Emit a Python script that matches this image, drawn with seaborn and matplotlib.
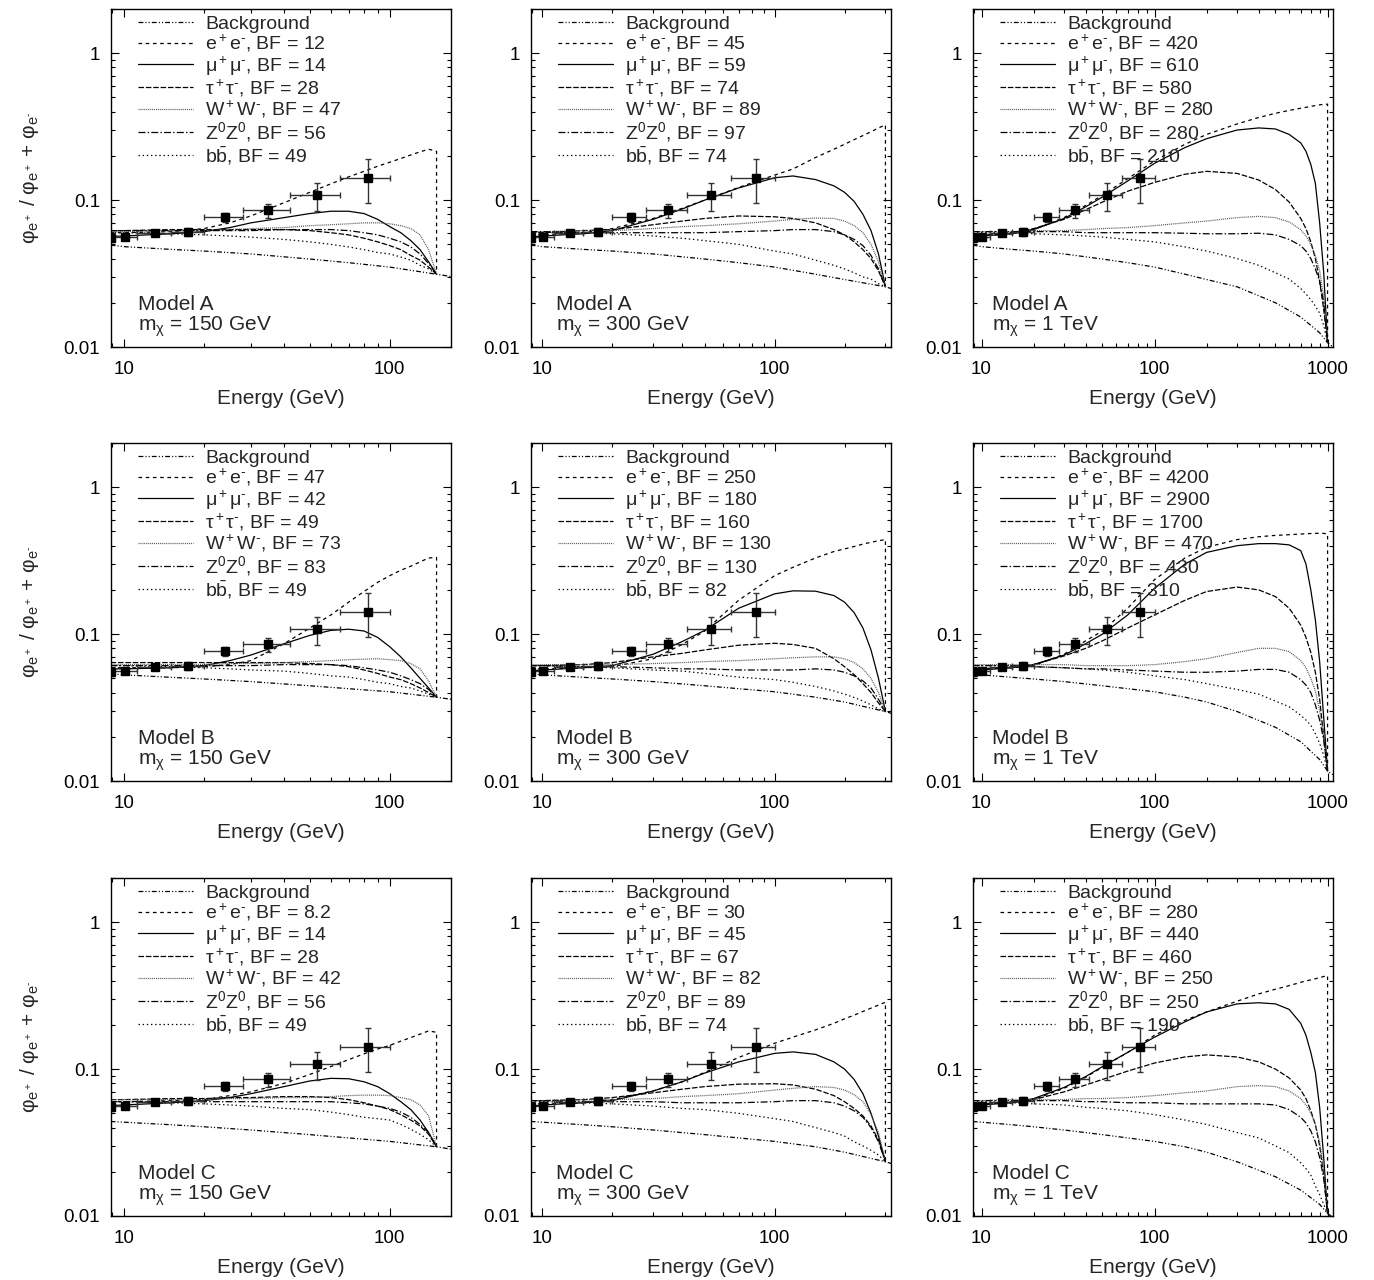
import matplotlib
matplotlib.use("Agg")
import matplotlib.pyplot as plt
import seaborn as sns
from matplotlib.ticker import NullFormatter

# ==========================================
# 1. DATOS
# ==========================================
E150 = [8.9, 10, 15, 20, 25, 30, 40, 50, 60, 70, 80, 90, 100, 110, 120, 130, 140, 150]
E300 = [8.9, 10, 15, 20, 30, 40, 50, 70, 100, 120, 150, 180, 200, 220, 240, 260, 280, 300]
E1000 = [8.9, 10, 15, 20, 30, 40, 50, 70, 100, 150, 200, 300, 400, 500, 600, 700, 750, 800,
         850, 900, 950, 1000]

# background (secondary positrons only)
BG_E = [8.9, 10, 15, 20, 30, 50, 70, 100, 150, 200, 300, 500, 700, 900, 1000, 1100]
BG_A = [0.0494, 0.0482, 0.0462, 0.0450, 0.0430, 0.0397, 0.0375, 0.0350, 0.0313, 0.0288,
        0.0257, 0.0200, 0.0160, 0.0125, 0.0107, 0.0098]
BG_B = [0.0536, 0.0528, 0.0508, 0.0495, 0.0475, 0.0445, 0.0425, 0.0405, 0.0372, 0.0345,
        0.0297, 0.0232, 0.0185, 0.0140, 0.0117, 0.0108]
BG_C = [0.0440, 0.0435, 0.0418, 0.0405, 0.0385, 0.0358, 0.0340, 0.0322, 0.0296, 0.0272,
        0.0234, 0.0185, 0.0150, 0.0120, 0.0104, 0.0096]

# Model A
A150_EE = [0.060, 0.060, 0.061, 0.064, 0.070, 0.078, 0.096, 0.113, 0.129, 0.144, 0.157, 0.170, 0.181, 0.192, 0.203, 0.213, 0.222, 0.215]
A150_MM = [0.0566, 0.057, 0.059, 0.061, 0.065, 0.070, 0.076, 0.081, 0.084, 0.084, 0.081, 0.074, 0.066, 0.060, 0.053, 0.046, 0.038, 0.0313]
A150_TT = [0.062, 0.062, 0.063, 0.063, 0.063, 0.063, 0.063, 0.062, 0.060, 0.058, 0.055, 0.052, 0.049, 0.046, 0.042, 0.039, 0.035, 0.0313]
A150_WW = [0.061, 0.061, 0.062, 0.062, 0.063, 0.064, 0.065, 0.067, 0.068, 0.069, 0.070, 0.070, 0.069, 0.067, 0.064, 0.058, 0.046, 0.0313]
A150_ZZ = [0.062, 0.062, 0.062, 0.062, 0.062, 0.062, 0.063, 0.063, 0.063, 0.062, 0.060, 0.058, 0.055, 0.052, 0.048, 0.043, 0.037, 0.0313]
A150_BB = [0.060, 0.060, 0.059, 0.058, 0.057, 0.056, 0.054, 0.052, 0.050, 0.048, 0.046, 0.044, 0.043, 0.041, 0.039, 0.036, 0.034, 0.0313]

A300_EE = [0.058, 0.058, 0.060, 0.064, 0.075, 0.088, 0.100, 0.122, 0.148, 0.163, 0.195, 0.222, 0.240, 0.258, 0.275, 0.292, 0.310, 0.325]
A300_MM = [0.056, 0.057, 0.059, 0.062, 0.074, 0.087, 0.100, 0.121, 0.142, 0.146, 0.138, 0.125, 0.113, 0.098, 0.080, 0.062, 0.043, 0.0257]
A300_TT = [0.060, 0.060, 0.062, 0.063, 0.068, 0.072, 0.075, 0.078, 0.077, 0.075, 0.070, 0.063, 0.058, 0.052, 0.046, 0.040, 0.033, 0.0257]
A300_WW = [0.061, 0.061, 0.062, 0.062, 0.064, 0.066, 0.067, 0.069, 0.072, 0.074, 0.0755, 0.075, 0.072, 0.067, 0.060, 0.050, 0.038, 0.0257]
A300_ZZ = [0.061, 0.061, 0.060, 0.060, 0.060, 0.060, 0.060, 0.061, 0.062, 0.063, 0.063, 0.061, 0.058, 0.054, 0.049, 0.042, 0.034, 0.0257]
A300_BB = [0.060, 0.060, 0.060, 0.059, 0.057, 0.055, 0.053, 0.050, 0.045, 0.043, 0.039, 0.036, 0.034, 0.032, 0.030, 0.029, 0.027, 0.0257]

A1000_EE = [0.057, 0.057, 0.059, 0.063, 0.076, 0.092, 0.108, 0.140, 0.185, 0.240, 0.280, 0.330, 0.365, 0.390, 0.408, 0.422, 0.428, 0.435, 0.440, 0.445, 0.449, 0.450]
A1000_MM = [0.057, 0.057, 0.059, 0.063, 0.075, 0.090, 0.105, 0.135, 0.178, 0.228, 0.262, 0.300, 0.310, 0.305, 0.280, 0.245, 0.215, 0.175, 0.130, 0.070, 0.032, 0.0107]
A1000_TT = [0.058, 0.058, 0.060, 0.064, 0.074, 0.086, 0.097, 0.115, 0.132, 0.150, 0.157, 0.152, 0.137, 0.118, 0.097, 0.075, 0.064, 0.052, 0.040, 0.028, 0.018, 0.0107]
A1000_WW = [0.061, 0.061, 0.061, 0.062, 0.062, 0.063, 0.064, 0.065, 0.067, 0.070, 0.072, 0.076, 0.0775, 0.076, 0.071, 0.063, 0.057, 0.050, 0.042, 0.033, 0.022, 0.0107]
A1000_ZZ = [0.061, 0.061, 0.061, 0.061, 0.061, 0.060, 0.060, 0.060, 0.060, 0.0595, 0.059, 0.059, 0.0595, 0.058, 0.054, 0.049, 0.045, 0.040, 0.034, 0.028, 0.020, 0.0107]
A1000_BB = [0.060, 0.060, 0.060, 0.059, 0.058, 0.057, 0.056, 0.054, 0.052, 0.048, 0.045, 0.040, 0.036, 0.032, 0.029, 0.025, 0.023, 0.021, 0.019, 0.017, 0.014, 0.0107]

# Model B
B150_EE = [0.059, 0.059, 0.059, 0.060, 0.062, 0.066, 0.086, 0.110, 0.135, 0.165, 0.195, 0.225, 0.250, 0.272, 0.290, 0.310, 0.330, 0.332]
B150_MM = [0.058, 0.058, 0.059, 0.061, 0.066, 0.072, 0.086, 0.098, 0.106, 0.108, 0.105, 0.095, 0.082, 0.070, 0.059, 0.050, 0.043, 0.0372]
B150_TT = [0.064, 0.064, 0.064, 0.064, 0.064, 0.064, 0.064, 0.063, 0.062, 0.060, 0.057, 0.054, 0.051, 0.049, 0.046, 0.043, 0.040, 0.0372]
B150_WW = [0.062, 0.062, 0.062, 0.062, 0.063, 0.063, 0.064, 0.065, 0.066, 0.067, 0.0675, 0.068, 0.067, 0.066, 0.063, 0.058, 0.048, 0.0372]
B150_ZZ = [0.061, 0.061, 0.061, 0.061, 0.061, 0.061, 0.062, 0.062, 0.062, 0.061, 0.059, 0.057, 0.055, 0.052, 0.049, 0.046, 0.042, 0.0372]
B150_BB = [0.061, 0.061, 0.060, 0.059, 0.058, 0.057, 0.056, 0.054, 0.052, 0.051, 0.049, 0.047, 0.046, 0.044, 0.043, 0.041, 0.039, 0.0372]

B300_EE = [0.058, 0.058, 0.059, 0.060, 0.068, 0.085, 0.105, 0.170, 0.250, 0.285, 0.330, 0.365, 0.380, 0.395, 0.410, 0.422, 0.432, 0.440]
B300_MM = [0.056, 0.057, 0.059, 0.061, 0.073, 0.089, 0.106, 0.150, 0.188, 0.197, 0.196, 0.183, 0.165, 0.140, 0.110, 0.078, 0.050, 0.0297]
B300_TT = [0.061, 0.061, 0.062, 0.064, 0.070, 0.074, 0.078, 0.084, 0.0866, 0.085, 0.080, 0.068, 0.060, 0.053, 0.046, 0.040, 0.034, 0.0297]
B300_WW = [0.062, 0.062, 0.062, 0.062, 0.063, 0.064, 0.065, 0.066, 0.068, 0.069, 0.070, 0.070, 0.068, 0.064, 0.058, 0.050, 0.040, 0.0297]
B300_ZZ = [0.061, 0.061, 0.060, 0.060, 0.059, 0.058, 0.058, 0.057, 0.057, 0.057, 0.058, 0.057, 0.055, 0.052, 0.048, 0.043, 0.036, 0.0297]
B300_BB = [0.061, 0.061, 0.060, 0.059, 0.057, 0.056, 0.054, 0.051, 0.049, 0.047, 0.044, 0.041, 0.039, 0.037, 0.035, 0.033, 0.031, 0.0297]

B1000_EE = [0.058, 0.058, 0.059, 0.061, 0.073, 0.090, 0.105, 0.150, 0.235, 0.330, 0.390, 0.440, 0.460, 0.470, 0.475, 0.480, 0.482, 0.484, 0.485, 0.486, 0.485, 0.480]
B1000_MM = [0.057, 0.057, 0.059, 0.062, 0.072, 0.086, 0.100, 0.135, 0.205, 0.300, 0.360, 0.400, 0.413, 0.413, 0.405, 0.370, 0.300, 0.200, 0.125, 0.065, 0.027, 0.0117]
B1000_TT = [0.058, 0.058, 0.060, 0.062, 0.071, 0.080, 0.090, 0.110, 0.135, 0.170, 0.195, 0.209, 0.200, 0.180, 0.150, 0.115, 0.095, 0.075, 0.055, 0.036, 0.020, 0.0117]
B1000_WW = [0.062, 0.062, 0.062, 0.062, 0.062, 0.061, 0.061, 0.061, 0.062, 0.065, 0.068, 0.075, 0.080, 0.080, 0.076, 0.066, 0.059, 0.050, 0.041, 0.030, 0.020, 0.0117]
B1000_ZZ = [0.061, 0.061, 0.061, 0.060, 0.059, 0.058, 0.058, 0.057, 0.056, 0.055, 0.055, 0.056, 0.0575, 0.0575, 0.055, 0.049, 0.045, 0.040, 0.033, 0.026, 0.019, 0.0117]
B1000_BB = [0.061, 0.061, 0.061, 0.060, 0.059, 0.058, 0.057, 0.055, 0.052, 0.049, 0.046, 0.042, 0.039, 0.035, 0.032, 0.028, 0.026, 0.024, 0.021, 0.018, 0.015, 0.0117]

# Model C
C150_EE = [0.060, 0.060, 0.061, 0.062, 0.066, 0.070, 0.080, 0.092, 0.104, 0.116, 0.127, 0.137, 0.145, 0.155, 0.164, 0.173, 0.182, 0.178]
C150_MM = [0.0565, 0.057, 0.059, 0.061, 0.064, 0.068, 0.076, 0.083, 0.0865, 0.086, 0.082, 0.076, 0.068, 0.060, 0.053, 0.045, 0.037, 0.0296]
C150_TT = [0.062, 0.062, 0.063, 0.063, 0.064, 0.064, 0.065, 0.065, 0.064, 0.062, 0.059, 0.056, 0.053, 0.049, 0.045, 0.041, 0.036, 0.0296]
C150_WW = [0.062, 0.062, 0.062, 0.062, 0.063, 0.063, 0.064, 0.064, 0.065, 0.066, 0.0665, 0.0665, 0.066, 0.064, 0.062, 0.057, 0.048, 0.0296]
C150_ZZ = [0.060, 0.060, 0.060, 0.060, 0.060, 0.060, 0.060, 0.060, 0.060, 0.059, 0.058, 0.056, 0.054, 0.051, 0.047, 0.042, 0.037, 0.0296]
C150_BB = [0.060, 0.060, 0.059, 0.058, 0.057, 0.056, 0.054, 0.053, 0.051, 0.049, 0.047, 0.046, 0.045, 0.042, 0.039, 0.036, 0.033, 0.0296]

C300_EE = [0.058, 0.058, 0.059, 0.062, 0.071, 0.082, 0.095, 0.120, 0.150, 0.165, 0.185, 0.205, 0.220, 0.233, 0.247, 0.260, 0.273, 0.285]
C300_MM = [0.056, 0.057, 0.059, 0.061, 0.071, 0.082, 0.094, 0.112, 0.128, 0.131, 0.126, 0.112, 0.100, 0.085, 0.068, 0.050, 0.035, 0.0234]
C300_TT = [0.061, 0.061, 0.062, 0.064, 0.069, 0.073, 0.076, 0.079, 0.0795, 0.078, 0.073, 0.066, 0.060, 0.054, 0.048, 0.041, 0.033, 0.0234]
C300_WW = [0.061, 0.061, 0.062, 0.062, 0.063, 0.065, 0.066, 0.068, 0.072, 0.074, 0.076, 0.075, 0.072, 0.067, 0.060, 0.049, 0.037, 0.0234]
C300_ZZ = [0.061, 0.061, 0.060, 0.060, 0.060, 0.059, 0.059, 0.059, 0.060, 0.061, 0.061, 0.059, 0.056, 0.052, 0.047, 0.040, 0.032, 0.0234]
C300_BB = [0.060, 0.060, 0.059, 0.058, 0.056, 0.054, 0.053, 0.050, 0.046, 0.044, 0.040, 0.037, 0.035, 0.032, 0.030, 0.028, 0.026, 0.0234]

C1000_EE = [0.058, 0.058, 0.059, 0.062, 0.074, 0.088, 0.103, 0.130, 0.170, 0.215, 0.245, 0.290, 0.325, 0.350, 0.370, 0.390, 0.398, 0.405, 0.412, 0.420, 0.427, 0.432]
C1000_MM = [0.0565, 0.057, 0.059, 0.063, 0.075, 0.089, 0.104, 0.130, 0.165, 0.210, 0.245, 0.278, 0.283, 0.278, 0.255, 0.205, 0.170, 0.130, 0.095, 0.055, 0.025, 0.0104]
C1000_TT = [0.058, 0.058, 0.060, 0.062, 0.070, 0.078, 0.085, 0.097, 0.110, 0.121, 0.125, 0.121, 0.112, 0.100, 0.087, 0.072, 0.063, 0.052, 0.042, 0.030, 0.019, 0.0104]
C1000_WW = [0.061, 0.061, 0.062, 0.062, 0.062, 0.063, 0.063, 0.064, 0.066, 0.069, 0.071, 0.076, 0.0772, 0.076, 0.071, 0.063, 0.057, 0.050, 0.042, 0.032, 0.021, 0.0104]
C1000_ZZ = [0.061, 0.061, 0.061, 0.061, 0.061, 0.060, 0.060, 0.059, 0.059, 0.058, 0.058, 0.058, 0.058, 0.057, 0.053, 0.047, 0.043, 0.038, 0.032, 0.025, 0.018, 0.0104]
C1000_BB = [0.060, 0.060, 0.059, 0.058, 0.057, 0.055, 0.054, 0.052, 0.049, 0.045, 0.042, 0.037, 0.034, 0.030, 0.027, 0.023, 0.021, 0.019, 0.016, 0.014, 0.012, 0.0104]

# boost factors shown in the legends (ee, mumu, tautau, WW, ZZ, bb)
BF_A = [["12", "14", "28", "47", "56", "49"],
        ["45", "59", "74", "89", "97", "74"],
        ["420", "610", "580", "280", "280", "210"]]
BF_B = [["47", "42", "49", "73", "83", "49"],
        ["250", "180", "160", "130", "130", "82"],
        ["4200", "2900", "1700", "470", "430", "310"]]
BF_C = [["8.2", "14", "28", "42", "56", "49"],
        ["30", "45", "67", "82", "89", "74"],
        ["280", "440", "460", "250", "250", "190"]]

# PAMELA positron fraction
PAM_E = [8.9, 10.1, 13.1, 17.4, 24.0, 34.9, 53.3, 82.9]
PAM_ELO = [7.4, 9.1, 11.2, 15.0, 20.0, 28.0, 42.0, 65.0]
PAM_EHI = [9.1, 11.2, 15.0, 20.0, 28.0, 42.0, 65.0, 100.0]
PAM_F = [0.0549, 0.0557, 0.0594, 0.0609, 0.0762, 0.0851, 0.1077, 0.1405]
PAM_FLO = [0.052, 0.054, 0.0575, 0.057, 0.0711, 0.0756, 0.0839, 0.0959]
PAM_FHI = [0.058, 0.0575, 0.061, 0.0649, 0.0819, 0.0944, 0.131, 0.189]

MASSES = [150, 300, 1000]
MASS_TXT = ["150 GeV", "300 GeV", "1 TeV"]
GRIDS = {150: E150, 300: E300, 1000: E1000}
XMAX = {150: 170, 300: 317, 1000: 1075}
MODELS = ["A", "B", "C"]
BGS = {"A": BG_A, "B": BG_B, "C": BG_C}
BFS = {"A": BF_A, "B": BF_B, "C": BF_C}
CURVES = {
    "A150": [A150_EE, A150_MM, A150_TT, A150_WW, A150_ZZ, A150_BB],
    "A300": [A300_EE, A300_MM, A300_TT, A300_WW, A300_ZZ, A300_BB],
    "A1000": [A1000_EE, A1000_MM, A1000_TT, A1000_WW, A1000_ZZ, A1000_BB],
    "B150": [B150_EE, B150_MM, B150_TT, B150_WW, B150_ZZ, B150_BB],
    "B300": [B300_EE, B300_MM, B300_TT, B300_WW, B300_ZZ, B300_BB],
    "B1000": [B1000_EE, B1000_MM, B1000_TT, B1000_WW, B1000_ZZ, B1000_BB],
    "C150": [C150_EE, C150_MM, C150_TT, C150_WW, C150_ZZ, C150_BB],
    "C300": [C300_EE, C300_MM, C300_TT, C300_WW, C300_ZZ, C300_BB],
    "C1000": [C1000_EE, C1000_MM, C1000_TT, C1000_WW, C1000_ZZ, C1000_BB],
}

CHANNELS = [r"e$^+$e$^{\text{-}}$", r"μ$^+$μ$^{\text{-}}$", r"τ$^+$τ$^{\text{-}}$",
            r"W$^+$W$^{\text{-}}$", r"Z$^0$Z$^0$", r"b$\bar{\mathrm{b}}$"]
STYLES = [
    ((0, (2.6, 2.6)), "black"),
    ("-", "black"),
    ((0, (4.0, 1.3)), "black"),
    ((0, (0.7, 0.7)), "#555555"),
    ((0, (5.0, 1.6, 1.0, 1.6)), "black"),
    ((0, (1.0, 2.0)), "black"),
]
BG_STYLE = (0, (3.5, 1.5, 0.8, 1.5, 0.8, 1.5))

# ==========================================
# 2. ESTILO
# ==========================================
sns.set_theme(style="ticks")
plt.rcParams.update({
    "font.family": ["Liberation Sans", "DejaVu Sans"],
    "mathtext.fontset": "custom",
    "mathtext.rm": "Liberation Sans",
    "mathtext.it": "Liberation Sans:italic",
    "mathtext.bf": "Liberation Sans:bold",
    "axes.edgecolor": "black",
    "axes.linewidth": 1.0,
    "xtick.color": "black",
    "ytick.color": "black",
    "lines.scale_dashes": False,
})

FS_LEG = 14
FS_LAB = 15
FS_TICK = 13.5
fig = plt.figure(figsize=(13.74, 12.80), dpi=100)

COL_LEFT = [111, 531, 973]
COL_W = [340, 360, 360]
ROW_BOTTOM = [347, 781, 1216]
AX_H = 338
W, H = 1374, 1280
MODEL_X = [0.080, 0.069, 0.053]

for r, model in enumerate(MODELS):
    bg = BGS[model]
    for c, mass in enumerate(MASSES):
        ax = fig.add_axes([COL_LEFT[c] / W, 1 - ROW_BOTTOM[r] / H, COL_W[c] / W, AX_H / H])
        ax.set_xscale("log")
        ax.set_yscale("log")
        grid = GRIDS[mass]
        curves = CURVES[f"{model}{mass}"]
        bfs = BFS[model][c]

        sns.lineplot(x=BG_E, y=bg, ax=ax, color="black", lw=0.9, linestyle=BG_STYLE,
                     sort=False, estimator=None, label="Background", legend=False)
        bg_at_m = bg[BG_E.index(mass)]
        for k, (vals, (ls, col)) in enumerate(zip(curves, STYLES)):
            xs, ys = list(grid), list(vals)
            if k == 0:  # e+e- spectrum ends with a sharp edge at m_chi
                xs.append(mass)
                ys.append(bg_at_m)
            sns.lineplot(x=xs, y=ys, ax=ax, color=col, lw=0.9, linestyle=ls,
                         sort=False, estimator=None, legend=False,
                         label=f"{CHANNELS[k]}, BF = {bfs[k]}")

        xerr = [[e - lo for e, lo in zip(PAM_E, PAM_ELO)], [hi - e for e, hi in zip(PAM_E, PAM_EHI)]]
        yerr = [[f - lo for f, lo in zip(PAM_F, PAM_FLO)], [hi - f for f, hi in zip(PAM_F, PAM_FHI)]]
        ax.errorbar(PAM_E, PAM_F, xerr=xerr, yerr=yerr, fmt="s", color="black", ms=5.5,
                    ecolor="#333333", elinewidth=1.0, capsize=2.5, capthick=1.0, zorder=5)

        ax.set_xlim(8.93, XMAX[mass])
        ax.set_ylim(0.01, 2.0)
        xt = [10, 100] if mass < 1000 else [10, 100, 1000]
        ax.set_xticks(xt)
        ax.set_xticklabels([str(t) for t in xt])
        ax.set_yticks([0.01, 0.1, 1])
        ax.set_yticklabels(["0.01", "0.1", "1"])
        ax.xaxis.set_minor_formatter(NullFormatter())
        ax.yaxis.set_minor_formatter(NullFormatter())
        ax.tick_params(which="both", direction="in", top=True, right=True, labelsize=FS_TICK)
        ax.tick_params(which="major", length=6, width=0.8)
        ax.tick_params(which="minor", length=3, width=0.8)
        ax.tick_params(axis="x", which="major", pad=10)
        ax.tick_params(axis="y", which="major", pad=8)

        ax.set_xlabel("Energy (GeV)", fontsize=FS_LAB, labelpad=8)
        if c == 0:
            ax.set_ylabel(r"φ$_{\mathrm{e^+}}$ / φ$_{\mathrm{e^+}}$ + φ$_{\mathrm{e^{\text{-}}}}$",
                          fontsize=FS_LAB, labelpad=16)
        else:
            ax.set_ylabel("")

        ax.text(MODEL_X[c], 0.109, f"Model {model}", transform=ax.transAxes,
                fontsize=FS_LAB, va="baseline", ha="left")
        ax.text(MODEL_X[c], 0.047, r"m$_{\mathrm{χ}}$ = " + MASS_TXT[c], transform=ax.transAxes,
                fontsize=FS_LAB, va="baseline", ha="left")

        ax.legend(loc="upper left", bbox_to_anchor=(24 / COL_W[c], 0.99), frameon=False,
                  fontsize=FS_LEG, handlelength=2.85, handletextpad=0.6, labelspacing=0.0,
                  borderaxespad=0.0, borderpad=0.15)

fig.savefig("out.png", dpi=100)
